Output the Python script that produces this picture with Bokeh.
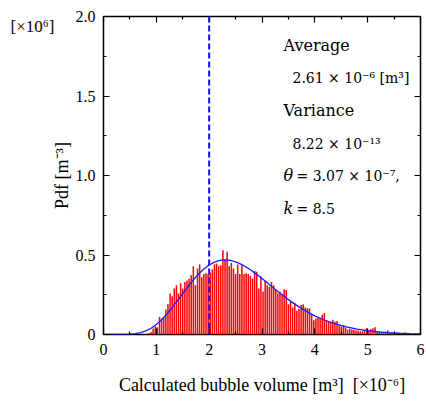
import math
from bokeh.plotting import figure
from bokeh.models import Range1d, LinearAxis, FixedTicker, Label, Span
from bokeh.embed import file_html
from bokeh.resources import INLINE

# ---- data (x in 1e-6 m^3, pdf in 1e6 m^-3) ----
bin_start = 0.80
bin_width = 0.04
pdf_hist = [
    0.005, 0.010,
    0.015, 0.038, 0.052, 0.046, 0.110, 0.100, 0.105, 0.157, 0.190, 0.258, 0.240, 0.290,
    0.310, 0.260, 0.320, 0.290, 0.330, 0.340, 0.350, 0.373, 0.430, 0.310, 0.415, 0.440,
    0.362, 0.380, 0.385, 0.380, 0.390, 0.410, 0.442, 0.446, 0.430, 0.436, 0.530, 0.470,
    0.520, 0.430, 0.450, 0.415, 0.380, 0.440, 0.380, 0.436, 0.380, 0.385, 0.380, 0.370,
    0.350, 0.400,
    0.395, 0.290, 0.365, 0.270, 0.340, 0.310, 0.300, 0.330, 0.310, 0.280, 0.260, 0.270,
    0.255, 0.285, 0.280, 0.190, 0.205, 0.170, 0.200, 0.150, 0.160, 0.185, 0.190, 0.170,
    0.165,
    0.163, 0.132, 0.090, 0.100, 0.110, 0.100, 0.125, 0.135, 0.090, 0.085, 0.080, 0.092,
    0.080, 0.085, 0.057, 0.050, 0.057, 0.046, 0.030, 0.036, 0.032, 0.030, 0.025, 0.025,
    0.021, 0.021,
    0.027, 0.040, 0.027, 0.034, 0.040, 0.046, 0.020, 0.020, 0.013, 0.013, 0.013, 0.025,
    0.013, 0.013, 0.008, 0.008, 0.008, 0.008, 0.008, 0.012, 0.004, 0.004, 0.003, 0.003,
    0.002, 0.002, 0.002,
]
fit_x = [0.0, 0.2, 0.3, 0.4, 0.5, 0.6, 0.7, 0.8, 0.9, 1.0, 1.1, 1.2, 1.3, 1.4, 1.5, 1.6,
         1.7, 1.8, 1.9, 2.0, 2.1, 2.2, 2.3, 2.4, 2.5, 2.6, 2.7, 2.8, 2.9, 3.0, 3.1, 3.2,
         3.3, 3.4, 3.5, 3.6, 3.7, 3.8, 3.9, 4.0, 4.2, 4.4, 4.6, 4.8, 5.0, 5.2, 5.4, 5.6,
         5.8, 6.0]
fit_y = [0.0, 0.0, 0.0001, 0.0005, 0.0018, 0.0050, 0.0115, 0.0226, 0.0394, 0.0627,
         0.0926, 0.1283, 0.1689, 0.2126, 0.2575, 0.3017, 0.3432, 0.3804, 0.4120, 0.4370,
         0.4549, 0.4656, 0.4692, 0.4661, 0.4571, 0.4429, 0.4244, 0.4025, 0.3781, 0.3520,
         0.3250, 0.2977, 0.2708, 0.2446, 0.2194, 0.1957, 0.1735, 0.1530, 0.1343, 0.1172,
         0.0881, 0.0651, 0.0474, 0.0340, 0.0241, 0.0168, 0.0116, 0.0080, 0.0054, 0.0036]
vline_x = 2.0
x_ticks = [0, 1, 2, 3, 4, 5, 6]
x_minor = [0.5, 1.5, 2.5, 3.5, 4.5, 5.5]
y_ticks = [0, 0.5, 1.0, 1.5, 2.0]
y_minor = [0.25, 0.75, 1.25, 1.75]
y_tick_labels = {0: "0", 0.5: "0.5", 1: "1.0", 1.5: "1.5", 2: "2.0"}

x_label = "Calculated bubble volume [m³]\u00a0\u00a0[×10⁻⁶]"
y_label = "Pdf [m⁻³]"
y_scale_note = "[×10⁶]"
stats_words = ["Average", "Variance"]
stats_values = ["2.61 × 10⁻⁶ [m³]", "8.22 × 10⁻¹³"]
theta_text = "= 3.07 × 10⁻⁷,"
k_text = "= 8.5"

bin_centers = [bin_start + bin_width * (i + 0.5) for i in range(len(pdf_hist))]

SERIF = "Liberation Serif"
BLOCK = "DejaVu Serif"

p = figure(width=426, height=401, output_backend="svg", toolbar_location=None,
           x_range=Range1d(0, 6), y_range=Range1d(0, 2),
           min_border_left=103, min_border_right=6, min_border_top=16, min_border_bottom=67)
p.xgrid.visible = False
p.ygrid.visible = False
p.outline_line_color = "black"
p.outline_line_width = 1.5
p.background_fill_color = "white"

# scale note at the top-left, drawn as the plot title pulled down beside "2.0"
p.title.text = y_scale_note
p.title.align = "left"
p.title.offset = -93
p.title.text_font = SERIF
p.title.text_font_size = "17px"
p.title.text_font_style = "normal"
p.title.text_color = "black"
p.title.vertical_align = "bottom"
p.title.standoff = -39

p.vbar(x=bin_centers, top=pdf_hist, width=bin_width * 0.72, bottom=0,
       fill_color="#ff0000", line_color=None)
p.line(fit_x, fit_y, line_color="#1a1aff", line_width=1.3)
p.add_layout(Span(location=vline_x, dimension="height", line_color="#1010e0",
                  line_width=2, line_dash="6 3"))

def style_axis(ax, labels=True):
    ax.axis_line_color = None
    ax.major_tick_in = 6
    ax.major_tick_out = 0
    ax.minor_tick_in = 3
    ax.minor_tick_out = 0
    ax.major_tick_line_color = "black"
    ax.minor_tick_line_color = "black"
    ax.major_tick_line_width = 1.2
    ax.minor_tick_line_width = 1.2
    ax.axis_label_text_font = SERIF
    ax.axis_label_text_font_style = "normal"
    ax.axis_label_text_font_size = "18px"
    ax.axis_label_text_color = "black"
    if labels:
        ax.major_label_text_font = SERIF
        ax.major_label_text_font_size = "16px"
        ax.major_label_text_color = "black"
    else:
        ax.major_label_text_font_size = "1px"
        ax.major_label_text_color = None
        ax.major_label_standoff = 0

xt = FixedTicker(ticks=x_ticks, minor_ticks=x_minor)
yt = FixedTicker(ticks=y_ticks, minor_ticks=y_minor)
p.xaxis.ticker = xt
p.yaxis.ticker = yt
p.yaxis.major_label_overrides = y_tick_labels
style_axis(p.xaxis[0])
style_axis(p.yaxis[0])
p.xaxis.major_label_standoff = 9
p.yaxis.major_label_standoff = 8
p.yaxis.axis_label = y_label
p.yaxis.axis_label_standoff = 1

ax_r = LinearAxis(ticker=FixedTicker(ticks=y_ticks, minor_ticks=y_minor))
style_axis(ax_r, labels=False)
p.add_layout(ax_r, "right")
ax_t = LinearAxis(ticker=FixedTicker(ticks=x_ticks, minor_ticks=x_minor))
style_axis(ax_t, labels=False)
p.add_layout(ax_t, "above")

# x-axis label on a tick-less axis below the tick labels
ax_xl = LinearAxis(ticker=FixedTicker(ticks=[]), axis_label=x_label)
style_axis(ax_xl, labels=False)
ax_xl.major_tick_in = 0
ax_xl.minor_tick_in = 0
ax_xl.axis_label_standoff = 17
p.add_layout(ax_xl, "below")

def lab(x, y, text, size=16, font=BLOCK, style="normal"):
    p.add_layout(Label(x=x, y=y, x_units="screen", y_units="screen", text=text,
                       text_font=font, text_font_size=f"{size}px", text_font_style=style,
                       text_color="black", text_align="left", text_baseline="alphabetic"))

# annotation block (inside the frame)
lab(180, 289, stats_words[0])
lab(189, 257, stats_values[0], 14)
lab(180, 224, stats_words[1])
lab(189, 191, stats_values[1], 14)
lab(180, 159, "θ", style="italic")
lab(193, 159, theta_text, 14)
lab(180, 126, "k", style="italic")
lab(193, 126, k_text, 14)

open("out.html", "w").write(file_html(p, INLINE))
